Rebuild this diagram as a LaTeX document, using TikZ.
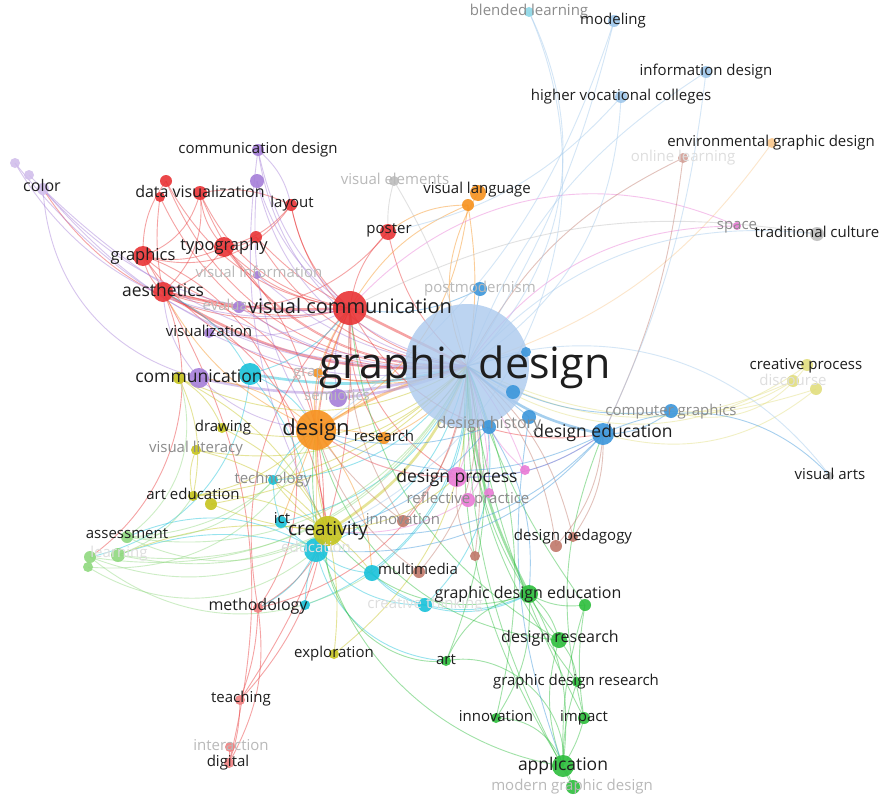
\documentclass[tikz,border=0pt]{standalone}
\usepackage{fontspec}
\setmainfont{Open Sans}
\usetikzlibrary{positioning}
\pgfdeclarelayer{edges}
\pgfdeclarelayer{labels}
\pgfsetlayers{edges,main,labels}
\definecolor{ink}{RGB}{30,30,30}
\definecolor{fa}{RGB}{140,140,140}
\definecolor{fb}{RGB}{185,185,185}
\definecolor{fc}{RGB}{222,222,222}
\definecolor{cgdc}{RGB}{172,202,238}
\definecolor{cred}{RGB}{233,52,54}
\definecolor{clrd}{RGB}{240,128,128}
\definecolor{cpur}{RGB}{166,127,217}
\definecolor{cora}{RGB}{247,146,30}
\definecolor{clor}{RGB}{250,200,140}
\definecolor{cblu}{RGB}{59,150,219}
\definecolor{clbl}{RGB}{160,200,236}
\definecolor{ccya}{RGB}{25,194,218}
\definecolor{clcy}{RGB}{140,215,230}
\definecolor{coli}{RGB}{198,196,30}
\definecolor{cpyl}{RGB}{226,222,126}
\definecolor{cgrn}{RGB}{45,190,60}
\definecolor{clgr}{RGB}{144,217,127}
\definecolor{cpnk}{RGB}{234,123,214}
\definecolor{cbrn}{RGB}{192,120,106}
\definecolor{cgry}{RGB}{190,190,190}

\begin{document}
\begin{tikzpicture}[x=1pt,y=-1pt,
  kw/.style n args={2}{circle,fill=#1,minimum size=#2pt,inner sep=0pt,fill opacity=.9},
  lab/.style={inner sep=0pt,text=ink,font=\fontsize{15}{15}\selectfont,execute at begin node=\vphantom{Ag}},
  sz/.style={font=\fontsize{#1}{#1}\selectfont},
  ln/.style={draw=#1,draw opacity=.45,line width=.9pt},
  hub/.style={draw=#1,draw opacity=.45,line width=2.6pt}]
  \useasboundingbox (0,0) rectangle (883,800);

  % hub
  \node[kw={cgdc}{124},fill opacity=.8] (gd) at (467,366) {};
  % red cluster
  \node[kw={cred}{34}] (vc) at (350,308) {};
  \node[kw={cred}{20}] (aes) at (163,292) {};
  \node[kw={cred}{20}] (gra) at (143,256) {};
  \node[kw={cred}{20}] (typo) at (224,247) {};
  \node[kw={cred}{14}] (datv) at (200,193) {};
  \node[kw={cred}{12}] (r1) at (166,181) {};
  \node[kw={cred}{10}] (r2) at (160,197) {};
  \node[kw={cred}{12}] (r3) at (256,237) {};
  \node[kw={cred}{12}] (lay) at (291,205) {};
  \node[kw={cred}{16}] (pos) at (388,232) {};
  \node[kw={clrd}{10}] (meth) at (258,608) {};
  \node[kw={clrd}{10}] (tea) at (240,700) {};
  \node[kw={clrd}{10}] (itr) at (230,747) {};
  \node[kw={clrd}{10}] (dig) at (229,763) {};
  % purple cluster
  \node[kw={cpur}{12}] (cdes) at (258,150) {};
  \node[kw={cpur}{14}] (p1) at (257,181) {};
  \node[kw={cpur!50}{12}] (col) at (43,189) {};
  \node[kw={cpur!50}{10}] (col1) at (15,163) {};
  \node[kw={cpur!50}{10}] (col2) at (29,175) {};
  \node[kw={cpur}{8}] (vinf) at (257,275) {};
  \node[kw={cpur}{12}] (eva) at (239,307) {};
  \node[kw={cpur}{10}] (vis) at (209,333) {};
  \node[kw={cpur}{20}] (comm) at (199,378) {};
  \node[kw={cpur}{18}] (sem) at (338,398) {};
  % orange cluster
  \node[kw={cora}{40}] (dsg) at (316,430) {};
  \node[kw={cora}{12}] (res) at (384,438) {};
  \node[kw={cora}{10}] (grp) at (318,373) {};
  \node[kw={cora}{16}] (vla) at (478,193) {};
  \node[kw={cora}{12}] (vla2) at (468,205) {};
  \node[kw={clor}{10}] (env) at (772,143) {};
  % blue cluster
  \node[kw={cblu}{22}] (dedu) at (603,434) {};
  \node[kw={cblu}{14}] (cg) at (671,411) {};
  \node[kw={cblu}{14}] (dh) at (489,427) {};
  \node[kw={cblu}{14}] (bl1) at (529,417) {};
  \node[kw={cblu}{14}] (bl2) at (513,392) {};
  \node[kw={cblu}{10}] (bl3) at (526,352) {};
  \node[kw={cblu}{14}] (pomo) at (480,289) {};
  \node[kw={clcy}{10}] (bl) at (529,12) {};
  \node[kw={clbl}{12}] (mod) at (614,21) {};
  \node[kw={clbl}{12}] (inf) at (706,72) {};
  \node[kw={clbl}{12}] (hvc) at (621,97) {};
  % cyan cluster
  \node[kw={ccya}{22}] (commc) at (250,374) {};
  \node[kw={ccya}{24}] (crec) at (316,550) {};
  \node[kw={ccya}{12}] (ict) at (281,522) {};
  \node[kw={ccya}{10}] (tech) at (273,480) {};
  \node[kw={ccya}{16}] (mm) at (372,573) {};
  \node[kw={ccya}{10}] (methc) at (305,605) {};
  \node[kw={ccya}{14}] (ct) at (425,605) {};
  % olive cluster
  \node[kw={coli}{30}] (cre) at (328,531) {};
  \node[kw={coli}{12}] (commo) at (179,378) {};
  \node[kw={coli}{10}] (drw) at (222,428) {};
  \node[kw={coli}{10}] (vlit) at (196,450) {};
  \node[kw={coli}{10}] (aed) at (193,496) {};
  \node[kw={coli}{12}] (aed2) at (211,504) {};
  \node[kw={coli}{10}] (exp) at (334,654) {};
  \node[kw={cpyl}{12}] (cp) at (807,365) {};
  \node[kw={cpyl}{12}] (dis) at (793,381) {};
  \node[kw={cpyl}{12}] (dis2) at (816,389) {};
  % green cluster
  \node[kw={cgrn}{18}] (gde) at (529,594) {};
  \node[kw={cgrn}{12}] (g1) at (585,605) {};
  \node[kw={cgrn}{16}] (dr) at (559,640) {};
  \node[kw={cgrn}{10}] (art) at (446,661) {};
  \node[kw={cgrn}{10}] (gdr) at (577,682) {};
  \node[kw={cgrn}{10}] (inn) at (496,718) {};
  \node[kw={cgrn}{12}] (imp) at (584,718) {};
  \node[kw={cgrn}{22}] (app) at (563,766) {};
  \node[kw={cgrn}{14}] (mgd) at (573,787) {};
  \node[kw={clgr}{12}] (ass) at (127,537) {};
  \node[kw={clgr}{14}] (lea) at (118,555) {};
  \node[kw={clgr}{12}] (lea2) at (90,557) {};
  \node[kw={clgr}{10}] (lea3) at (88,567) {};
  % pink cluster
  \node[kw={cpnk}{20}] (dproc) at (457,477) {};
  \node[kw={cpnk}{14}] (rp) at (468,500) {};
  \node[kw={cpnk}{10}] (pk1) at (489,493) {};
  \node[kw={cpnk}{10}] (pk2) at (525,470) {};
  \node[kw={cpnk}{8}] (spa) at (737,226) {};
  % brown cluster
  \node[kw={cbrn}{12}] (inno) at (403,521) {};
  \node[kw={cbrn}{12}] (mmb) at (419,572) {};
  \node[kw={cbrn}{10}] (b1) at (475,556) {};
  \node[kw={cbrn}{12}] (b2) at (556,546) {};
  \node[kw={cbrn}{10}] (dped) at (573,537) {};
  \node[kw={cbrn!70}{10}] (onl) at (683,158) {};
  % gray
  \node[kw={cgry}{10}] (vel) at (394,181) {};
  \node[kw={cgry}{14}] (tc) at (817,234) {};
  \node[kw={cgry}{8}] (va) at (830,476) {};

  \begin{pgfonlayer}{edges}
    \fill[white] (0,0) rectangle (883,800);
    % strong links
    \draw[hub=cred] (vc.center) -- (gd.center);
    \draw[hub=cora] (dsg.center) to[bend left=8] (gd.center);
    \draw[hub=cblu] (dedu.center) to[bend left=15] (gd.center);
    \draw[hub=ccya] (commc.center) to[bend left=-12] (gd.center);
    \draw[hub=cpur] (comm.center) to[bend left=-15] (gd.center);
    \draw[hub=coli] (cre.center) to[bend left=-18] (gd.center);
    \draw[hub=cred] (aes.center) to[bend left=-18] (gd.center);
    \draw[hub=cgrn] (gde.center) to[bend left=12] (gd.center);
    \draw[hub=cpur] (sem.center) to[bend left=-8] (gd.center);
    \draw[hub=cred] (aes.center) to[bend left=-8] (vc.center);
    % red
    \foreach \a/\b/\k [evaluate=\k as \kk using 1.8*\k] in {vc/gra/15,vc/typo/10,vc/datv/15,vc/lay/10,vc/pos/10,vc/r1/15,
      vc/r3/5,vc/col/20,vc/dsg/-10,vc/meth/-15,vc/dproc/-15,vc/dedu/-20,vc/cre/-10,vc/res/-10,
      gra/gd/-20,typo/gd/-15,datv/gd/-20,lay/gd/-20,pos/gd/-10,r1/gd/-20,r2/gd/-20,r3/gd/-15,
      aes/gra/10,aes/typo/-10,aes/datv/-15,gra/typo/-10,gra/datv/-15,gra/lay/-20,typo/datv/10,
      typo/lay/-10,aes/pos/-20,gra/r1/10,aes/r2/5,typo/r3/-10,datv/lay/10,aes/dsg/20,
      gra/meth/30,meth/tea/5,meth/dig/10,tea/dig/5,itr/dig/0,dig/aes/-12,tea/dsg/-15,
      meth/cre/-10,meth/gd/-20,gra/lea2/25,tea/vc/-10,aes/cre/15,typo/dsg/10}
      \draw[ln=cred] (\a.center) to[bend left=\kk] (\b.center);
    % purple
    \foreach \a/\b/\k [evaluate=\k as \kk using 1.8*\k] in {cdes/gd/-20,cdes/vc/-10,p1/gd/-20,p1/vc/-10,col/gd/-15,col1/gd/-15,
      col2/gd/-12,col/comm/-20,col/vc/-15,vis/gd/-10,vinf/gd/-10,eva/gd/-10,cdes/lay/10,
      comm/aes/10,sem/vc/10,vis/vc/-10,col1/vc/-20,p1/dsg/-10,comm/dsg/-10,cdes/cre/-10}
      \draw[ln=cpur] (\a.center) to[bend left=\kk] (\b.center);
    % cyan
    \foreach \a/\b/\k [evaluate=\k as \kk using 1.8*\k] in {crec/gd/-15,mm/gd/-15,ict/gd/-15,tech/gd/-15,ct/gd/-20,methc/gd/-20,
      commc/crec/10,commc/dsg/10,crec/mm/-10,crec/ct/-15,crec/ass/-15,crec/ict/5,crec/meth/10,
      mm/ct/-10,crec/art/-20,commc/aes/-10,ict/tech/5,crec/lea/-10,mm/gde/-20,methc/crec/5,
      commc/vc/-10,tech/dsg/10,ct/gde/-10,commc/lea2/20}
      \draw[ln=ccya] (\a.center) to[bend left=\kk] (\b.center);
    % olive
    \foreach \a/\b/\k [evaluate=\k as \kk using 1.8*\k] in {cre/dsg/5,cre/aed/-10,cre/drw/-10,cre/vlit/-10,cre/commo/-10,cre/exp/5,
      cre/tech/5,commo/gd/-15,drw/gd/-15,vlit/gd/-15,aed/gd/-10,aed2/gd/-10,aed/dsg/-10,
      commo/aed/10,commo/drw/10,vlit/aed/-10,exp/gd/-15,cre/mm/5,cre/dproc/-10,aed2/cre/-5,
      cre/lea/-8}
      \draw[ln=coli] (\a.center) to[bend left=\kk] (\b.center);
    \foreach \a/\b/\k [evaluate=\k as \kk using 1.8*\k] in {cp/gd/20,dis/gd/15,dis2/dedu/15,cp/cg/20,dis/cg/10,dis2/gd/12}
      \draw[ln=cpyl] (\a.center) to[bend left=\kk] (\b.center);
    % green
    \foreach \a/\b/\k [evaluate=\k as \kk using 1.8*\k] in {dr/gd/10,app/gd/10,imp/gd/5,gdr/gd/10,g1/gd/5,art/gd/-10,inn/gd/-10,
      mgd/gd/8,gde/dr/10,gde/app/10,gde/art/-15,gde/g1/-10,dr/app/-10,dr/gdr/10,imp/app/5,
      gdr/app/-5,inn/app/20,art/app/30,inn/gde/-10,g1/app/-5,gde/cre/20,dr/dsg/20,app/mgd/5,
      g1/imp/-5,art/cre/30,imp/dedu/10,app/dsg/25,dr/vc/15}
      \draw[ln=cgrn] (\a.center) to[bend left=\kk] (\b.center);
    \foreach \a/\b/\k [evaluate=\k as \kk using 1.8*\k] in {ass/gd/-20,lea/gd/-20,lea2/gd/-20,lea3/dsg/-20,ass/dsg/-15,lea/cre/-10,
      lea2/cre/-15,ass/cre/-15,lea/aed/-10,ass/commo/-20,lea3/crec/-20,ass/tech/-15,lea2/mm/-20}
      \draw[ln=clgr] (\a.center) to[bend left=\kk] (\b.center);
    % orange
    \foreach \a/\b/\k [evaluate=\k as \kk using 1.8*\k] in {dsg/res/5,dsg/vc/5,dsg/comm/-10,dsg/grp/5,vla/gd/-15,vla2/gd/5,
      vla2/pos/-10,vla2/vc/-10,vla2/dsg/15,grp/gd/-10,res/gd/-10,dsg/dproc/-10,dsg/crec/0,
      dsg/ict/0,dsg/aes/10,grp/vc/5,dsg/mm/10}
      \draw[ln=cora] (\a.center) to[bend left=\kk] (\b.center);
    \draw[ln=clor] (env.center) to[bend left=18] (gd.center);
    % pink
    \foreach \a/\b/\k [evaluate=\k as \kk using 1.8*\k] in {dproc/gd/-10,dproc/dsg/10,rp/gd/-10,pk1/gd/-5,pk2/gd/-5,spa/gd/-15,
      spa/vc/-20,dproc/dedu/-10,rp/dh/-10,pk2/dh/5,rp/cre/10}
      \draw[ln=cpnk] (\a.center) to[bend left=\kk] (\b.center);
    % brown
    \foreach \a/\b/\k [evaluate=\k as \kk using 1.8*\k] in {dped/gd/-10,b2/gd/-10,b1/gd/-5,inno/gd/-10,mmb/gd/-15,onl/gd/-10,
      b2/dedu/-10,mmb/dsg/10,inno/dsg/5,b1/dproc/10,dped/dedu/-10,inno/vc/10,onl/dedu/5}
      \draw[ln=cbrn] (\a.center) to[bend left=\kk] (\b.center);
    % blue
    \foreach \a/\b/\k [evaluate=\k as \kk using 1.8*\k] in {cg/gd/10,dh/gd/0,bl1/gd/0,bl2/gd/0,bl3/gd/0,pomo/gd/0,dedu/cg/-10,
      dedu/dsg/15,dedu/va/20,dedu/cre/15,dh/dsg/10,dedu/crec/15,dh/cre/10,pomo/vc/10,
      dedu/dproc/10,dh/gde/10,bl1/app/-8}
      \draw[ln=cblu] (\a.center) to[bend left=\kk] (\b.center);
    \foreach \a/\b/\k [evaluate=\k as \kk using 1.8*\k] in {bl/gd/20,mod/gd/5,inf/gd/-10,hvc/gd/15,inf/dedu/5,va/gd/-20,
      tc/gd/-15,hvc/pos/10,mod/dsg/10,bl/cre/25}
      \draw[ln=clbl] (\a.center) to[bend left=\kk] (\b.center);
    % gray
    \foreach \a/\b/\k [evaluate=\k as \kk using 1.8*\k] in {vel/gd/5,vel/pos/-5,tc/vc/-10}
      \draw[ln=cgry] (\a.center) to[bend left=\kk] (\b.center);
  \end{pgfonlayer}

  \begin{pgfonlayer}{labels}
    % half-hidden labels
    \begin{scope}
      \clip (0,290) rectangle (245,320);
      \node[lab,text=fb] (eva-t) at (239,307) {evaluation};
    \end{scope}
    \begin{scope}
      \clip (250,360) rectangle (321,385);
      \node[lab,text=fb] (grp-t) at (319,373) {graphic};
    \end{scope}
    \node[lab,sz=43] (gd-t) at (465,367) {graphic design};
    \node[lab,sz=20] (vc-t) at (350,308) {visual communication};
    \node[lab,sz=22] (dsg-t) at (316,430) {design};
    \node[lab,sz=19] (cre-t) at (328,531) {creativity};
    \node[lab,sz=17.5] (dedu-t) at (603,433) {design education};
    \node[lab,sz=17.5] (dproc-t) at (457,478) {design process};
    \node[lab,sz=17.5] (comm-t) at (199,378) {communication};
    \node[lab,sz=17.5] (aes-t) at (163,292) {aesthetics};
    \node[lab,sz=17.5] (app-t) at (563,766) {application};
    \node[lab,sz=16.5] (gra-t) at (143,256) {graphics};
    \node[lab,sz=16.5] (typo-t) at (224,246) {typography};
    \node[lab,sz=16] (datv-t) at (200,193) {data visualization};
    \node[lab,sz=16] (col-t) at (42,187) {color};
    \node[lab] (cdes-t) at (258,150) {communication design};
    \node[lab] (lay-t) at (292,204) {layout};
    \node[lab] (pos-t) at (389,230) {poster};
    \node[lab,text=fb] (vinf-t) at (259,274) {visual information};
    \node[lab] (vis-t) at (209,333) {visualization};
    \node[lab,text=fb] (pomo-t) at (480,289) {postmodernism};
    \node[lab,text=fb] (vel-t) at (395,181) {visual elements};
    \node[lab] (vla-t) at (477,190) {visual language};
    \node[lab,text=fa] (bl-t) at (529,12) {blended learning};
    \node[lab] (mod-t) at (613,21) {modeling};
    \node[lab] (inf-t) at (706,72) {information design};
    \node[lab] (hvc-t) at (621,97) {higher vocational colleges};
    \node[lab] (env-t) at (771,143) {environmental graphic design};
    \node[lab,text=fc] (onl-t) at (683,158) {online learning};
    \node[lab,text=fa] (spa-t) at (737,226) {space};
    \node[lab] (tc-t) at (817,234) {traditional culture};
    \node[lab,text=fb] (sem-t) at (337,397) {semiotics};
    \node[lab] (res-t) at (384,438) {research};
    \node[lab] (drw-t) at (223,428) {drawing};
    \node[lab,text=fa] (vlit-t) at (196,449) {visual literacy};
    \node[lab,text=fa] (tech-t) at (273,480) {technology};
    \node[lab] (aed-t) at (193,496) {art education};
    \node[lab] (ict-t) at (282,520) {ict};
    \node[lab,text=fc] (crec-t) at (316,549) {education};
    \node[lab,text=fa] (inno-t) at (403,521) {innovation};
    \node[lab] (ass-t) at (127,535) {assessment};
    \node[lab,text=fc] (lea-t) at (119,554) {learning};
    \node[lab] (mm-t) at (418,571) {multimedia};
    \node[lab] (dped-t) at (573,537) {design pedagogy};
    \node[lab,text=fa] (rp-t) at (468,500) {reflective practice};
    \node[lab,sz=16,text=fa] (dh-t) at (489,424) {design history};
    \node[lab,text=fa] (cg-t) at (671,412) {computer graphics};
    \node[lab] (cp-t) at (806,366) {creative process};
    \node[lab,text=fc] (dis-t) at (793,382) {discourse};
    \node[lab] (va-t) at (830,476) {visual arts};
    \node[lab,sz=16] (meth-t) at (258,606) {methodology};
    \node[lab,text=fc] (ct-t) at (425,605) {creative thinking};
    \node[lab,sz=16] (gde-t) at (528,594) {graphic design education};
    \node[lab] (exp-t) at (334,654) {exploration};
    \node[lab,sz=16] (dr-t) at (560,638) {design research};
    \node[lab] (art-t) at (446,661) {art};
    \node[lab] (gdr-t) at (576,682) {graphic design research};
    \node[lab] (tea-t) at (241,699) {teaching};
    \node[lab] (inn-t) at (496,718) {innovation};
    \node[lab] (imp-t) at (584,718) {impact};
    \node[lab,text=fb] (itr-t) at (231,747) {interaction};
    \node[lab] (dig-t) at (228,763) {digital};
    \node[lab,text=fb] (mgd-t) at (572,787) {modern graphic design};
  \end{pgfonlayer}
\end{tikzpicture}
\end{document}
